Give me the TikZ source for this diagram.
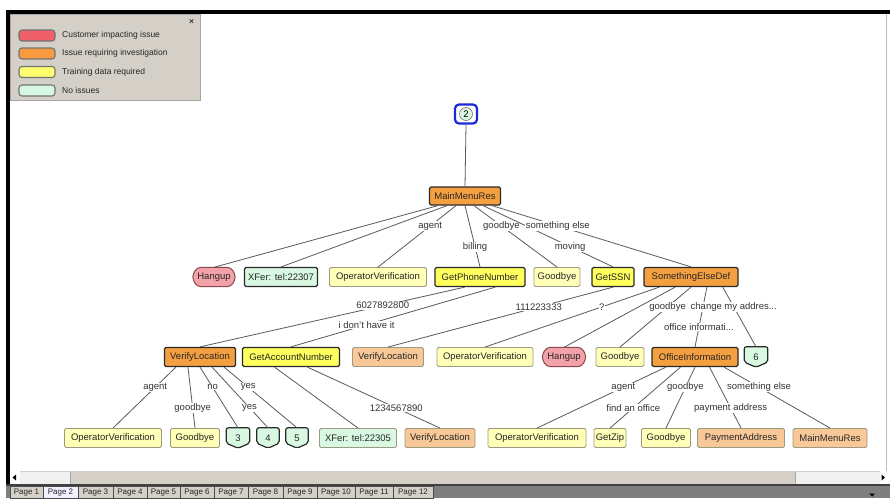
\documentclass[tikz,border=0pt]{standalone}
\usepackage{fontspec}
\setmainfont{Liberation Sans}
\usetikzlibrary{calc}
\pgfdeclarelayer{bg}
\pgfdeclarelayer{shapes}
\pgfsetlayers{bg,shapes,main}
\definecolor{orgS}{HTML}{F5A040}
\definecolor{orgL}{HTML}{F8C898}
\definecolor{yelS}{HTML}{FFFF5E}
\definecolor{yelL}{HTML}{FFFFB8}
\definecolor{mint}{HTML}{D8F8E2}
\definecolor{pinkH}{HTML}{F4A2AA}
\definecolor{pinkB}{HTML}{8A4848}
\definecolor{winG}{HTML}{D4D0C8}
\definecolor{edgeC}{HTML}{5A5A5A}
\definecolor{thinB}{HTML}{9C9A80}
\definecolor{darkB}{HTML}{2A2A2A}
\definecolor{blueB}{HTML}{1A2AD8}
\definecolor{barG}{HTML}{7F7F7F}
\definecolor{lgRed}{HTML}{F0606A}
\definecolor{lgOrg}{HTML}{F89A40}
\definecolor{lgYel}{HTML}{FFFF70}
\definecolor{lgMint}{HTML}{D4F8E4}
\newcommand\nfont{\fontsize{9.5}{11}\selectfont}
\newcommand\lgfont{\fontsize{8.5}{10}\selectfont}
\newcommand\tbfont{\fontsize{8}{9}\selectfont}
\tikzset{
 box/.style={rectangle, minimum height=19pt, inner xsep=1pt, inner ysep=0pt, font=\nfont, text=black!85, rounded corners=1.5pt},
 bigorange/.style={box, fill=orgS, draw=darkB, line width=1.3pt},
 paleorange/.style={box, fill=orgL, draw=thinB, line width=0.9pt},
 bigyellow/.style={box, fill=yelS, draw=darkB, line width=1.3pt},
 paleyellow/.style={box, fill=yelL, draw=thinB, line width=0.9pt},
 mintbox/.style={box, fill=mint, draw=darkB, line width=1.1pt},
 mintthin/.style={box, fill=mint, draw=thinB, line width=0.9pt},
 hangtext/.style={box, minimum width=45pt, text=black!85},
 hangshape/.style={fill=pinkH, draw=pinkB, line width=1pt, rounded corners=4pt},
 shieldtext/.style={box, minimum width=23pt, minimum height=20pt},
 shieldshape/.style={fill=mint, draw=darkB, line width=1.2pt, rounded corners=2pt},
 edge/.style={draw=edgeC, line width=0.8pt},
 lbl/.style={font=\nfont, fill=white, inner sep=0.6pt, text=black!80},
 swatch/.style={rectangle, rounded corners=3pt, minimum width=36pt, minimum height=11pt, inner sep=0pt, draw=black!55, line width=1.1pt},
 lgtext/.style={font=\lgfont, anchor=west, inner sep=0pt, text=black!85},
 tabtext/.style={font=\tbfont, inner sep=0pt, text=black!85},
}
\newcommand\tedge[5]{\draw[edge] ($(#1.south west)!#2!(#1.south east)$) -- node[lbl,pos=#4]{#5} (#3.north);}
\newcommand\pedge[3]{\draw[edge] ($(#1.south west)!#2!(#1.south east)$) -- (#3.north);}
\newcommand\hangdraw[1]{\begin{pgfonlayer}{shapes}\path[hangshape] ([xshift=5pt]#1.north west) -- ([xshift=-5pt]#1.north east) -- (#1.east) -- ([xshift=-5pt]#1.south east) -- ([xshift=5pt]#1.south west) -- (#1.west) -- cycle;\end{pgfonlayer}}
\newcommand\shielddraw[1]{\begin{pgfonlayer}{shapes}\path[shieldshape] (#1.north west) -- (#1.north east) -- ([yshift=5pt]#1.south east) -- (#1.south) -- ([yshift=5pt]#1.south west) -- cycle;\end{pgfonlayer}}
\begin{document}
\begin{tikzpicture}[x=1pt,y=-1pt]
\begin{pgfonlayer}{bg}
\fill[white] (0,0) rectangle (890,498);
\end{pgfonlayer}
\useasboundingbox (0,0) rectangle (890,498);
% window frame
\fill[black] (6,10) rectangle (890,14);
\fill[black] (6,10) rectangle (10,484);
\draw[black!25, line width=0.8pt] (886.5,14) -- (886.5,471);
% scrollbar
\fill[winG] (10,471) rectangle (886,484);
\fill[black!6] (20,471.5) rectangle (70,483.5);
\fill[black!6] (795,471.5) rectangle (880,483.5);
\draw[black!35] (70,471.5) -- (70,483.5) (795,471.5) -- (795,483.5);
\fill[white] (10,471) rectangle (20,484);
\fill[black] (12.5,477.5) -- (16,474.5) -- (16,480.5) -- cycle;
\fill[white] (880,471) rectangle (886,484);
\fill[black] (885,477.5) -- (881.5,474.5) -- (881.5,480.5) -- cycle;
\fill[black!75] (6,484) rectangle (890,486);
\fill[barG] (6,486) rectangle (890,498);
\fill[black] (869,493.5) -- (875,493.5) -- (872,496.5) -- cycle;
% tabs
\foreach \a/\b/\t in {10/43/1, 78/113/3, 113/147/4, 147/180/5, 180/214/6, 214/248/7, 248/283/8, 283/317/9, 317/355/10, 355/393/11, 393/433/12}{
 \draw[fill=winG, draw=black!70, line width=0.6pt] (\a,486) rectangle (\b,498);
 \node[tabtext] (tab\t) at ({(\a+\b)/2},492.5) {Page \t};
}
\draw[fill=black!4!blue!6, draw=black!70, line width=0.6pt] (43,486) rectangle (78,498);
\node[tabtext] (tab2) at (60.5,492.5) {Page 2};
% legend
\draw[fill=winG, draw=black!35, line width=0.8pt] (10,14) rectangle (200,100);
\node[font=\lgfont\bfseries, inner sep=0pt, text=black!80] (lgclose) at (191.5,22) {×};
\node[swatch, fill=lgRed] (sw1) at (37,35.5) {};
\node[swatch, fill=lgOrg] (sw2) at (37,53.5) {};
\node[swatch, fill=lgYel] (sw3) at (37,72) {};
\node[swatch, fill=lgMint] (sw4) at (37,90.5) {};
\node[lgtext] (lg1) at (62,35.5) {Customer impacting issue};
\node[lgtext] (lg2) at (62,53.5) {Issue requiring investigation};
\node[lgtext] (lg3) at (62,72) {Training data required};
\node[lgtext] (lg4) at (62,90.5) {No issues};
% root
\node[rectangle, rounded corners=4pt, minimum width=22pt, minimum height=19pt, draw=blueB, line width=2.2pt, fill=white] (n2) at (466,114) {};
\node[circle, fill=mint, draw=black!55, line width=0.6pt, minimum size=13pt, inner sep=0pt, font=\nfont] (n2in) at (n2.center) {2};
\node[bigorange, minimum width=71pt, minimum height=18pt] (mmr) at (465,196) {MainMenuRes};
% row 2
\node[hangtext, minimum width=44pt] (hang1) at (214,277) {Hangup};
\node[mintbox, minimum width=73pt] (xf1) at (281,277) {XFer: tel:22307};
\node[paleyellow, minimum width=97pt] (ov1) at (378,277) {OperatorVerification};
\node[bigyellow, minimum width=90pt] (gpn) at (480,277) {GetPhoneNumber};
\node[paleyellow, minimum width=46pt] (gb1) at (557,277) {Goodbye};
\node[bigyellow, minimum width=42pt] (gssn) at (613,277) {GetSSN};
\node[bigorange, minimum width=94pt] (sed) at (691,277) {SomethingElseDef};
% row 3
\node[bigorange, minimum width=71pt] (vl1) at (200,357) {VerifyLocation};
\node[bigyellow, minimum width=97pt] (gan) at (291,357) {GetAccountNumber};
\node[paleorange, minimum width=71pt] (vl2) at (388,357) {VerifyLocation};
\node[paleyellow, minimum width=96pt] (ov2) at (485,357) {OperatorVerification};
\node[hangtext, minimum width=45pt] (hang2) at (564,357) {Hangup};
\node[paleyellow, minimum width=48pt] (gb2) at (620,357) {Goodbye};
\node[bigorange, minimum width=86pt] (oi) at (695,357) {OfficeInformation};
\node[shieldtext] (s6) at (756,357) {6};
% row 4
\node[paleyellow, minimum width=97pt] (ov3) at (113,438) {OperatorVerification};
\node[paleyellow, minimum width=49pt] (gb3) at (195,438) {Goodbye};
\node[shieldtext] (s3) at (238,438) {3};
\node[shieldtext, minimum width=22pt] (s4) at (268,438) {4};
\node[shieldtext, minimum width=22pt] (s5) at (297,438) {5};
\node[mintthin, minimum width=77pt] (xf2) at (358,438) {XFer: tel:22305};
\node[paleorange, minimum width=70pt] (vl3) at (440,438) {VerifyLocation};
\node[paleyellow, minimum width=98pt] (ov4) at (537,438) {OperatorVerification};
\node[paleyellow, minimum width=32pt] (gz) at (610,438) {GetZip};
\node[paleyellow, minimum width=49pt] (gb4) at (666,438) {Goodbye};
\node[paleorange, minimum width=87pt] (pa) at (741,438) {PaymentAddress};
\node[paleorange, minimum width=74pt] (mmr2) at (830,438) {MainMenuRes};
% special shapes
\hangdraw{hang1}
\hangdraw{hang2}
\shielddraw{s3}
\shielddraw{s4}
\shielddraw{s5}
\shielddraw{s6}
% edges
\draw[edge] (n2.south) -- (mmr.north);
\pedge{mmr}{0.125}{hang1}
\pedge{mmr}{0.25}{xf1}
\tedge{mmr}{0.375}{ov1}{0.33}{agent}
\tedge{mmr}{0.5}{gpn}{0.67}{billing}
\tedge{mmr}{0.625}{gb1}{0.33}{goodbye}
\tedge{mmr}{0.75}{gssn}{0.67}{moving}
\tedge{mmr}{0.875}{sed}{0.33}{something else}
\tedge{gpn}{0.333}{vl1}{0.31}{6027892800}
\tedge{gpn}{0.667}{gan}{0.63}{i don't have it}
\tedge{gssn}{0.5}{vl2}{0.33}{111223333}
\tedge{sed}{0.1667}{ov2}{0.33}{?}
\pedge{sed}{0.3333}{hang2}
\tedge{sed}{0.5}{gb2}{0.33}{goodbye}
\tedge{sed}{0.6667}{oi}{0.67}{office informati...}
\tedge{sed}{0.8333}{s6}{0.33}{change my addres...}
\tedge{vl1}{0.1667}{ov3}{0.33}{agent}
\tedge{vl1}{0.3333}{gb3}{0.67}{goodbye}
\tedge{vl1}{0.5}{s3}{0.33}{no}
\tedge{vl1}{0.6667}{s4}{0.67}{yes}
\tedge{vl1}{0.8333}{s5}{0.33}{yes}
\pedge{gan}{0.333}{xf2}
\tedge{gan}{0.667}{vl3}{0.67}{1234567890}
\tedge{oi}{0.1667}{ov4}{0.33}{agent}
\tedge{oi}{0.3333}{gz}{0.67}{find an office}
\tedge{oi}{0.5}{gb4}{0.33}{goodbye}
\tedge{oi}{0.6667}{pa}{0.67}{payment address}
\tedge{oi}{0.8333}{mmr2}{0.33}{something else}
\end{tikzpicture}
\end{document}
